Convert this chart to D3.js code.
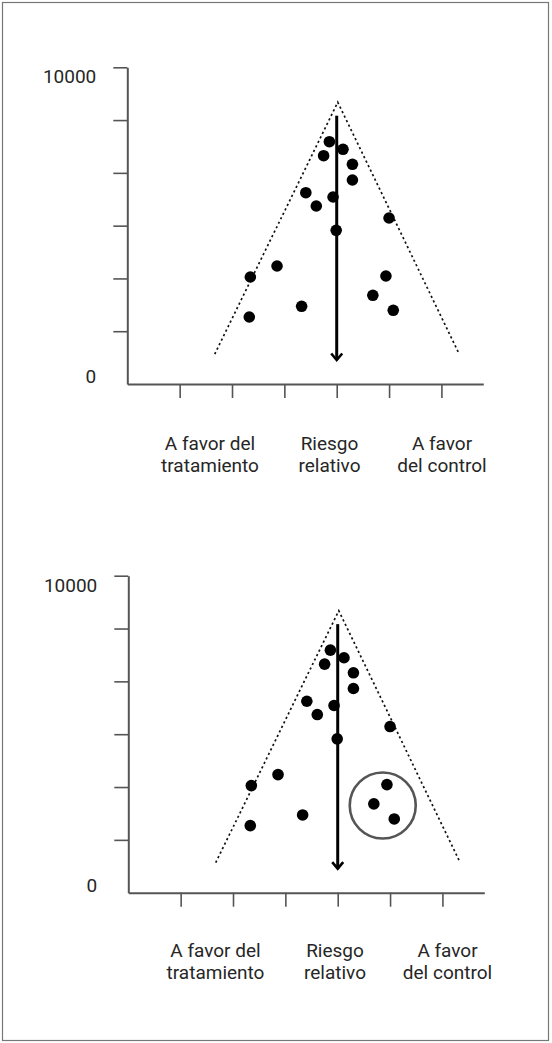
<!DOCTYPE html>
<html>
<head>
<meta charset="utf-8">
<script src="https://cdn.jsdelivr.net/npm/d3@7"></script>
<style>
  html, body { margin: 0; padding: 0; background: #fff; }
  svg { display: block; }
  text { font-family: Roboto, "Open Sans", sans-serif; fill: #262626; }
</style>
</head>
<body>
<svg id="chart" width="552" height="1043"></svg>
<script>
// ---- data ----
const studyRR   = [3.86, 4.12, 3.75, 4.30, 4.30, 3.41, 3.93, 3.61, 5.00, 3.99, 2.86, 2.35, 4.94, 4.69, 3.33, 5.08, 2.33];
const studySize = [7651, 7411, 7209, 6937, 6441, 6040, 5905, 5620, 5242, 4853, 3726, 3379, 3410, 2801, 2453, 2327, 2116];
const yTickValues = [10000 / 6, 20000 / 6, 30000 / 6, 40000 / 6, 50000 / 6, 10000];
const yTickLabels = ["0", "10000"];
const xTickValues = [1, 2, 3, 4, 5, 6];
const funnelX = [1.67, 4.02, 6.34];
const funnelY = [947, 8895, 947];
const pooledRR = 4.0;
const arrowRange = [8472, 758];
const categoryLines = [["A favor del", "tratamiento"], ["Riesgo", "relativo"], ["A favor", "del control"]];
const highlightCenter = [4.86, 2751];

// ---- layout ----
const panels = [
  { x0: 127.3, top: 67.3, bottom: 384, labelX: [210, 329.5, 442], labelY: 450, circle: false },
  { x0: 128.3, top: 575.7, bottom: 892.7, labelX: [215.5, 335, 447.5], labelY: 957, circle: true }
];

const svg = d3.select("#chart");

// outer frame
svg.append("rect")
  .attr("x", 2.5).attr("y", 2.5).attr("width", 546).attr("height", 1038)
  .attr("fill", "none").attr("stroke", "#777").attr("stroke-width", 1.2);

panels.forEach(p => {
  const g = svg.append("g");
  const x = d3.scaleLinear().domain([0, 6.8]).range([p.x0, p.x0 + 356]);
  const y = d3.scaleLinear().domain([0, 10000]).range([p.bottom, p.top]);

  // y axis
  const ya = g.append("g").attr("transform", `translate(${p.x0},0)`)
    .call(d3.axisLeft(y).tickValues(yTickValues).tickSize(14).tickSizeOuter(0).tickFormat(""));
  ya.select(".domain").attr("stroke", "#555").attr("stroke-width", 2);
  ya.selectAll(".tick line").attr("stroke", "#555").attr("stroke-width", 1.6);

  // x axis
  const xa = g.append("g").attr("transform", `translate(0,${p.bottom})`)
    .call(d3.axisBottom(x).tickValues(xTickValues).tickSize(14).tickSizeOuter(0).tickFormat(""));
  xa.select(".domain").attr("stroke", "#555").attr("stroke-width", 2);
  xa.selectAll(".tick line").attr("stroke", "#555").attr("stroke-width", 1.6);

  // y labels
  g.append("text").attr("x", p.x0 - 31).attr("y", y(10000) + 16)
    .attr("text-anchor", "end").attr("font-size", 19).text(yTickLabels[1]);
  g.append("text").attr("x", p.x0 - 31).attr("y", y(0) - 1)
    .attr("text-anchor", "end").attr("font-size", 19).text(yTickLabels[0]);

  // funnel
  const line = d3.line().x(d => x(d[0])).y(d => y(d[1]));
  g.append("path")
    .attr("d", line(funnelX.map((v, i) => [v, funnelY[i]])))
    .attr("fill", "none").attr("stroke", "#111").attr("stroke-width", 1.7)
    .attr("stroke-dasharray", "2.2,2.8");

  // pooled arrow
  g.append("line")
    .attr("x1", x(pooledRR)).attr("x2", x(pooledRR))
    .attr("y1", y(arrowRange[0])).attr("y2", y(arrowRange[1]))
    .attr("stroke", "#000").attr("stroke-width", 3);
  const ax = x(pooledRR), ay = y(arrowRange[1]);
  g.append("path")
    .attr("d", `M${ax - 5.5},${ay - 6.5}L${ax},${ay}L${ax + 5.5},${ay - 6.5}`)
    .attr("fill", "none").attr("stroke", "#000").attr("stroke-width", 2.6);

  // studies
  g.selectAll("circle.study").data(studyRR.map((v, i) => [v, studySize[i]]))
    .join("circle").attr("class", "study")
    .attr("cx", d => x(d[0])).attr("cy", d => y(d[1])).attr("r", 5.8)
    .attr("fill", "#000");

  // highlight circle
  if (p.circle) {
    g.append("circle")
      .attr("cx", x(highlightCenter[0])).attr("cy", y(highlightCenter[1])).attr("r", 33)
      .attr("fill", "none").attr("stroke", "#555").attr("stroke-width", 2.6);
  }

  // category labels (one text per line)
  categoryLines.forEach((lines, i) => {
    lines.forEach((s, j) => {
      g.append("text").attr("text-anchor", "middle").attr("font-size", 19)
        .attr("x", p.labelX[i]).attr("y", p.labelY + j * 22.4).text(s);
    });
  });
});
</script>
</body>
</html>
